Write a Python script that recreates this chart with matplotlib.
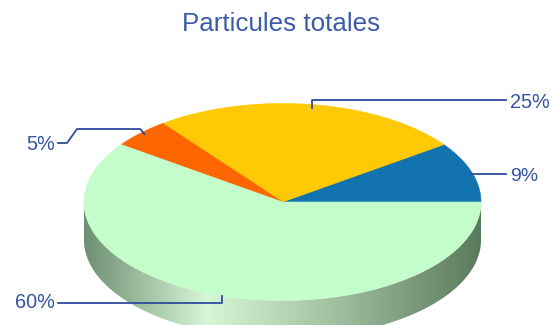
import numpy as np
import matplotlib.pyplot as plt
from matplotlib.patches import Polygon
from matplotlib.colors import LinearSegmentedColormap

plt.rcParams['font.family'] = ['Liberation Sans', 'DejaVu Sans']

title = 'Particules totales'
shares = [9.9, 25.4, 4.8, 59.9]
labels = ['9%', '25%', '5%', '60%']
colors = ['#1273af', '#ffc905', '#ff6600', '#c4fdcb']

# pie geometry in pixels (axes spans the whole figure)
cx, cy, rx, ry, depth = 282.5, 202.0, 198.5, 98.5, 38.0
text_color = '#3553a3'
line_color = '#2e4c9c'


def arc(a0, a1, dy=0.0, n=200):
    t = np.radians(np.linspace(a0, a1, n))
    return np.column_stack([cx + rx * np.cos(t), cy + dy - ry * np.sin(t)])


fig = plt.figure(figsize=(5.52, 3.25), dpi=100)
ax = fig.add_axes([0, 0, 1, 1])
ax.set_xlim(0, 552)
ax.set_ylim(325, 0)
ax.axis('off')

# side wall (front half) with a horizontal gradient
side = np.vstack([arc(180, 360), arc(360, 180, dy=depth)])
side_patch = Polygon(side, closed=True, facecolor='none', edgecolor='none')
ax.add_patch(side_patch)
side_cmap = LinearSegmentedColormap.from_list(
    'side', [(0.0, '#6f8f73'), (0.31, '#d6f6d6'), (0.62, '#a2c2a2'), (1.0, '#5a7a5c')])
grad = np.linspace(0, 1, 256).reshape(1, -1)
im = ax.imshow(grad, cmap=side_cmap, aspect='auto',
               extent=[cx - rx, cx + rx, cy + ry + depth, cy - ry], zorder=1)
im.set_clip_path(side_patch)

# top face wedges
bounds = np.concatenate([[0], np.cumsum(shares)]) / sum(shares) * 360
for a0, a1, col in zip(bounds[:-1], bounds[1:], colors):
    pts = np.vstack([[cx, cy], arc(a0, a1)])
    ax.add_patch(Polygon(pts, closed=True, facecolor=col, edgecolor=col,
                         linewidth=0.4, zorder=2))

# labels with leader lines, anchored at the middle of each slice edge
mids = (bounds[:-1] + bounds[1:]) / 2
anchors = [(cx + rx * np.cos(np.radians(m)), cy - ry * np.sin(np.radians(m))) for m in mids]
lw = 1.3

# 9%
x0, y0 = anchors[0]
ax.plot([x0, 506], [y0 + 2, y0 + 2], color=line_color, lw=lw, zorder=3)
ax.text(510, y0 + 4.5, labels[0], color=text_color, fontsize=14, ha='left', va='center')
# 25%
x0, y0 = anchors[1]
ax.plot([x0, x0, 506], [y0 + 3, 100, 100], color=line_color, lw=lw, zorder=3)
ax.text(510, 103, labels[1], color=text_color, fontsize=14.3, ha='left', va='center')
# 5%
x0, y0 = anchors[2]
ax.plot([x0 + 4, x0, 77, 67, 58], [y0 + 1, 129, 129, 143, 143],
        color=line_color, lw=lw, zorder=3)
ax.text(55, 145, labels[2], color=text_color, fontsize=14.3, ha='right', va='center')
# 60%
x0, y0 = anchors[3]
ax.plot([x0, x0, 58], [y0, 302.7, 302.7], color=line_color, lw=lw, zorder=3)
ax.text(55, 302, labels[3], color=text_color, fontsize=14.3, ha='right', va='center')

ax.text(281, 24, title, color='#3a5aaa', fontsize=18.7, ha='center', va='center')

fig.savefig('out.png', dpi=100)
